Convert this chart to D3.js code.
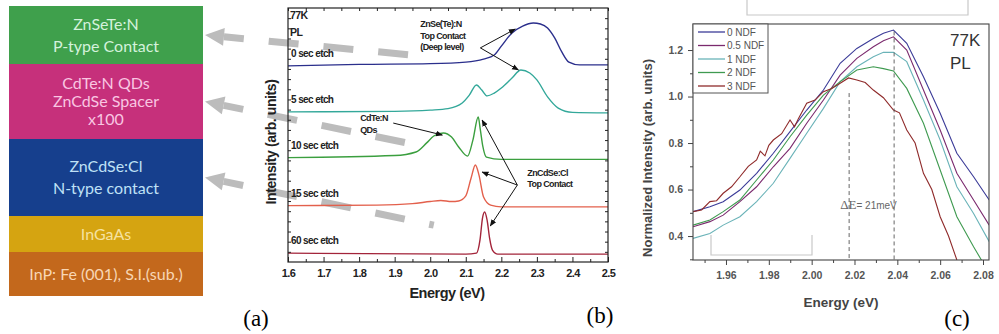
<!DOCTYPE html>
<html>
<head>
<meta charset="utf-8">
<script src="https://cdn.jsdelivr.net/npm/d3@7"></script>
<style>
  body { margin: 0; background: #fff; }
  svg { display: block; }
</style>
</head>
<body>
<svg id="fig" width="999" height="334"></svg>
<script>
// ---------- data ----------

// (a) layer stack, top to bottom (relative thickness as drawn)
const layerLines = [
    ["ZnSeTe:N", "P-type Contact"],
    ["CdTe:N QDs", "ZnCdSe Spacer", "x100"],
    ["ZnCdSe:Cl", "N-type contact"],
    ["InGaAs"],
    ["InP: Fe (001), S.I.(sub.)"]
];
const layerThick = [58, 75, 77, 36, 44];

// (b) PL spectra after etching (energy in eV, offset intensity in arb. units)
const etchLabels = ["0 sec etch", "5 sec etch", "10 sec etch", "15 sec etch", "60 sec etch"];
const etch0E = [1.6, 1.8, 2.0, 2.1, 2.15, 2.18, 2.2, 2.23, 2.26, 2.29, 2.31, 2.33, 2.35, 2.37, 2.39, 2.42, 2.5];
const etch0I = [7.72, 7.78, 7.81, 7.87, 7.99, 8.15, 8.50, 9.02, 9.29, 9.41, 9.37, 9.21, 8.82, 8.27, 7.87, 7.76, 7.76];
const etch5E = [1.6, 1.9, 2.0, 2.05, 2.09, 2.11, 2.13, 2.145, 2.16, 2.18, 2.2, 2.23, 2.255, 2.28, 2.3, 2.33, 2.36, 2.4, 2.5];
const etch5I = [5.91, 5.93, 5.98, 6.04, 6.26, 6.57, 6.97, 6.77, 6.54, 6.65, 6.85, 7.24, 7.56, 7.44, 7.17, 6.50, 6.06, 5.89, 5.87];
const etch10E = [1.6, 1.9, 1.96, 1.99, 2.01, 2.037, 2.06, 2.08, 2.105, 2.12, 2.135, 2.141, 2.148, 2.158, 2.2, 2.5];
const etch10I = [4.11, 4.19, 4.33, 4.69, 4.96, 5.08, 4.92, 4.53, 4.17, 4.80, 5.71, 5.20, 4.55, 4.13, 4.04, 4.04];
const etch15E = [1.6, 1.85, 1.95, 2.0, 2.03, 2.06, 2.08, 2.1, 2.115, 2.127, 2.137, 2.15, 2.17, 2.2, 2.5];
const etch15I = [2.22, 2.24, 2.30, 2.38, 2.42, 2.38, 2.40, 2.60, 3.31, 3.82, 3.43, 2.56, 2.24, 2.17, 2.17];
const etch60E = [1.6, 2.1, 2.13, 2.14, 2.147, 2.153, 2.16, 2.167, 2.175, 2.19, 2.5];
const etch60I = [0.35, 0.31, 0.35, 0.87, 1.73, 1.97, 1.65, 0.94, 0.47, 0.31, 0.31];
const etchTicks = [1.6, 1.7, 1.8, 1.9, 2.0, 2.1, 2.2, 2.3, 2.4, 2.5];

// (c) normalized PL vs neutral density filter
const ndfLabels = ["0 NDF", "0.5 NDF", "1 NDF", "2 NDF", "3 NDF"];
const ndfE = [1.9446, 1.9525, 1.9587, 1.9665, 1.9743, 1.9821, 1.9899, 1.9977, 2.0055, 2.0133,
              2.0211, 2.0288, 2.0335, 2.0382, 2.0444, 2.0522, 2.0600, 2.0678, 2.0756, 2.0829];
const ndf0 = [0.505, 0.526, 0.548, 0.598, 0.670, 0.756, 0.849, 0.942, 1.028, 1.143,
              1.207, 1.250, 1.272, 1.286, 1.229, 1.085, 0.928, 0.756, 0.655, 0.555];
const ndf05 = [0.440, 0.462, 0.490, 0.548, 0.612, 0.698, 0.777, 0.885, 0.985, 1.092,
               1.164, 1.214, 1.240, 1.257, 1.200, 1.028, 0.856, 0.670, 0.555, 0.447];
const ndf1 = [0.390, 0.411, 0.447, 0.483, 0.548, 0.627, 0.734, 0.842, 0.949, 1.064,
              1.128, 1.171, 1.190, 1.190, 1.150, 0.985, 0.813, 0.612, 0.497, 0.376];
const ndf2 = [0.447, 0.469, 0.505, 0.555, 0.641, 0.727, 0.827, 0.920, 1.006, 1.064,
              1.114, 1.128, 1.120, 1.110, 1.035, 0.885, 0.684, 0.483, 0.354, 0.240];
const ndf3E = [1.9446, 1.9486, 1.9525, 1.9556, 1.9587, 1.9626, 1.9665, 1.9704, 1.9743, 1.9760,
               1.9782, 1.9800, 1.9821, 1.9860, 1.9899, 1.9920, 1.9938, 1.9977, 2.0016, 2.0055,
               2.0094, 2.0133, 2.0172, 2.0211, 2.0250, 2.0288, 2.0335, 2.0382, 2.0410, 2.0444,
               2.0483, 2.0522, 2.0561, 2.0600, 2.0639, 2.0678, 2.0720];
const ndf3 = [0.505, 0.512, 0.548, 0.552, 0.584, 0.612, 0.655, 0.700, 0.727, 0.765,
              0.745, 0.790, 0.813, 0.840, 0.899, 0.870, 0.905, 0.971, 0.985, 1.021,
              1.035, 1.057, 1.080, 1.071, 1.060, 1.028, 0.995, 0.942, 0.930, 0.856,
              0.800, 0.670, 0.600, 0.483, 0.400, 0.297, 0.220];
const ndfYTicks = [0.4, 0.6, 0.8, 1.0, 1.2];
const ndfXTicks = [1.96, 1.98, 2.00, 2.02, 2.04, 2.06, 2.08];
const peakE = [2.0175, 2.0385];   // peak positions of 3 NDF and 0 NDF

// ---------- styles ----------
const layerFill = ["#3fa04c", "#c6307b", "#163f8d", "#d5a411", "#c3681c"];
const layerInk = ["#d4f2dc", "#f9c6e2", "#bfe1f6", "#f6e2a0", "#f8d6b4"];
const etchColor = ["#2b2f8c", "#33a89a", "#3b9f3f", "#e3604c", "#a3243a"];
const ndfColor = ["#3b3b98", "#7b2a6e", "#6ab3b8", "#3f9a50", "#8f2a2a"];
const sans = "'Liberation Sans', Arial, sans-serif";
const serif = "'Liberation Serif', 'DejaVu Serif', serif";

const svg = d3.select("#fig");

// ---------- panel (a): layer stack ----------
const aLeft = 9, aRight = 203;
const yA = d3.scaleLinear().domain([0, d3.sum(layerThick)]).range([6, 296]);
const layerTop = [0, ...d3.cumsum(layerThick)];
const gA = svg.append("g");

layerLines.forEach((lines, i) => {
    const y0 = yA(layerTop[i]);
    const y1 = yA(layerTop[i + 1]);
    gA.append("rect")
        .attr("x", aLeft).attr("y", y0)
        .attr("width", aRight - aLeft).attr("height", y1 - y0)
        .attr("fill", layerFill[i]);
    const lh = lines.length === 3 ? 18 : 22;
    const mid = (y0 + y1) / 2;
    lines.forEach((t, j) => {
        gA.append("text")
            .attr("x", (aLeft + aRight) / 2)
            .attr("y", mid + (j - (lines.length - 1) / 2) * lh)
            .attr("dy", "0.35em")
            .attr("text-anchor", "middle")
            .style("font-family", "Lato, 'Noto Sans', sans-serif")
            .style("font-size", "16px")
            .attr("fill", layerInk[i])
            .text(t);
    });
});

svg.append("text").attr("x", 256).attr("y", 326).attr("text-anchor", "middle")
    .style("font-family", serif).style("font-size", "23px").text("(a)");

// ---------- panel (b): etch series ----------
const xB = d3.scaleLinear().domain([1.6, 2.5]).range([288, 608]);
const yB = d3.scaleLinear().domain([0, 10]).range([262, 8]);
const etchSeries = [
    d3.zip(etch0E, etch0I), d3.zip(etch5E, etch5I), d3.zip(etch10E, etch10I),
    d3.zip(etch15E, etch15I), d3.zip(etch60E, etch60I)
];

// grey dashed arrows from spectra back to the layers (drawn first, behind)
const arrowLinks = [
    { layer: 0, E: 1.945, I: 8.15 },
    { layer: 1, E: 1.965, I: 4.60 },
    { layer: 2, E: 2.010, I: 1.45 }
];
const gArrows = svg.append("g");
arrowLinks.forEach((a) => {
    const hx = aRight + 2;
    const hy = (yA(layerTop[a.layer]) + yA(layerTop[a.layer + 1])) / 2;
    const tx = xB(a.E), ty = yB(a.I);
    const len = Math.hypot(tx - hx, ty - hy);
    const ux = (hx - tx) / len, uy = (hy - ty) / len;
    const bx = hx - ux * 19, by = hy - uy * 19;
    const nx = -uy, ny = ux;
    gArrows.append("line")
        .attr("x1", bx).attr("y1", by).attr("x2", tx).attr("y2", ty)
        .attr("stroke", "#bcbcbc").attr("stroke-width", 7)
        .attr("stroke-dasharray", "30,25").attr("stroke-dashoffset", 10);
    gArrows.append("polygon")
        .attr("points", [[hx, hy], [bx + nx * 9, by + ny * 9], [bx - nx * 9, by - ny * 9]].join(" "))
        .attr("fill", "#bcbcbc");
});

const gB = svg.append("g");
const lineB = d3.line().x((d) => xB(d[0])).y((d) => yB(d[1])).curve(d3.curveMonotoneX);

gB.selectAll(".etch")
    .data(etchSeries)
    .enter().append("path")
    .attr("class", "etch")
    .attr("d", lineB)
    .attr("fill", "none")
    .attr("stroke", (d, i) => etchColor[i])
    .attr("stroke-width", 1.4);

// axes (ticks inward)
gB.append("g").attr("transform", "translate(0," + yB(0) + ")")
    .call(d3.axisBottom(xB).tickValues(d3.range(1.65, 2.5, 0.1)).tickSize(-3).tickFormat(""));
gB.append("g").attr("transform", "translate(0," + yB(0) + ")")
    .call(d3.axisBottom(xB).tickValues(etchTicks).tickSize(-5).tickPadding(7).tickFormat(d3.format(".1f")));
gB.append("g").attr("transform", "translate(0," + yB(10) + ")")
    .call(d3.axisTop(xB).tickValues(d3.range(1.6, 2.51, 0.05)).tickSize(-3).tickFormat(""));
gB.append("g").attr("transform", "translate(" + xB(1.6) + ",0)")
    .call(d3.axisLeft(yB).tickValues(d3.range(0.4, 10, 0.4)).tickSize(-3).tickFormat(""));
gB.append("g").attr("transform", "translate(" + xB(2.5) + ",0)")
    .call(d3.axisRight(yB).tickValues(d3.range(0.4, 10, 0.4)).tickSize(-3).tickFormat(""));
gB.selectAll(".domain").remove();
gB.selectAll(".tick line").attr("stroke", "#222");
gB.selectAll(".tick text")
    .style("font-family", sans).style("font-size", "11px").style("font-weight", "bold")
    .style("letter-spacing", "-0.6px").attr("fill", "#222");
gB.append("rect")
    .attr("x", xB(1.6)).attr("y", yB(10))
    .attr("width", xB(2.5) - xB(1.6)).attr("height", yB(0) - yB(10))
    .attr("fill", "none").attr("stroke", "#222").attr("stroke-width", 1.2);

const bText = (x, y, t, size) => gB.append("text")
    .attr("x", x).attr("y", y).text(t)
    .style("font-family", sans).style("font-size", size + "px").style("font-weight", "bold")
    .style("letter-spacing", "-0.6px").attr("fill", "#222");

bText(xB(1.6) + 2, yB(10) + 11, "77K", 10.5);
bText(xB(1.6) + 2, yB(10) + 28, "PL", 10.5);
etchSeries.forEach((s, i) => bText(xB(1.6) + 3, yB(s[0][1]) - 9, etchLabels[i], 10));

// annotations with black arrows
svg.append("defs").append("marker")
    .attr("id", "tip").attr("viewBox", "0 0 10 10").attr("refX", 9).attr("refY", 5)
    .attr("markerWidth", 7).attr("markerHeight", 7).attr("orient", "auto")
    .append("path").attr("d", "M0,1L10,5L0,9Z").attr("fill", "#111");

const annotations = [
    { E: 1.972, I: 9.25, lines: ["ZnSe(Te):N", "Top Contact", "(Deep level)"],
      from: [2.141, 8.43], to: [[2.239, 9.17], [2.248, 7.56]] },
    { E: 1.803, I: 5.55, lines: ["CdTe:N", " QDs"],
      from: [1.896, 5.47], to: [[2.034, 5.0]] },
    { E: 2.273, I: 3.39, lines: ["ZnCdSe:Cl", "Top Contact"],
      from: [2.245, 3.03], to: [[2.146, 3.54], [2.169, 1.42], [2.146, 5.59]] }
];
annotations.forEach((a) => {
    a.lines.forEach((t, j) => bText(xB(a.E), yB(a.I) + j * 11.5, t, 9));
    a.to.forEach((p) => {
        gB.append("line")
            .attr("x1", xB(a.from[0])).attr("y1", yB(a.from[1]))
            .attr("x2", xB(p[0])).attr("y2", yB(p[1]))
            .attr("stroke", "#111").attr("stroke-width", 1)
            .attr("marker-end", "url(#tip)");
    });
});

svg.append("text").attr("x", 447).attr("y", 298).attr("text-anchor", "middle")
    .style("font-family", sans).style("font-size", "14.5px").style("font-weight", "bold")
    .style("letter-spacing", "-0.5px").attr("fill", "#222").text("Energy (eV)");
svg.append("text").attr("transform", "translate(276,142) rotate(-90)").attr("text-anchor", "middle")
    .style("font-family", sans).style("font-size", "14px").style("font-weight", "bold")
    .style("letter-spacing", "-0.4px").attr("fill", "#222").text("Intensity (arb. units)");
svg.append("text").attr("x", 600).attr("y", 323).attr("text-anchor", "middle")
    .style("font-family", serif).style("font-size", "23px").text("(b)");

// ---------- panel (c): NDF series ----------
const xC = d3.scaleLinear().domain([1.9446, 2.0828]).range([693, 989]);
const yC = d3.scaleLinear().domain([0.297, 1.312]).range([260, 24]);
const ndfSeries = [
    d3.zip(ndfE, ndf0), d3.zip(ndfE, ndf05), d3.zip(ndfE, ndf1),
    d3.zip(ndfE, ndf2), d3.zip(ndf3E, ndf3)
];
const gC = svg.append("g");

// grey bracket artefacts
const grey = "#c8c8c8";
gC.append("path").attr("d", "M747,0V15H968V0").attr("fill", "none").attr("stroke", grey).attr("stroke-width", 1.2);

svg.append("clipPath").attr("id", "clipC").append("rect")
    .attr("x", xC.range()[0]).attr("y", yC.range()[1])
    .attr("width", xC.range()[1] - xC.range()[0]).attr("height", yC.range()[0] - yC.range()[1]);

gC.append("path").attr("d", "M711,235V255H812V235").attr("fill", "none").attr("stroke", grey).attr("stroke-width", 1.2);

const lineC = d3.line().x((d) => xC(d[0])).y((d) => yC(d[1])).curve(d3.curveLinear);
gC.append("g").attr("clip-path", "url(#clipC)")
    .selectAll(".ndf")
    .data(ndfSeries)
    .enter().append("path")
    .attr("class", "ndf")
    .attr("d", lineC)
    .attr("fill", "none")
    .attr("stroke", (d, i) => ndfColor[i])
    .attr("stroke-width", 1.1);

// peak markers
const peakTop = [1.015, 1.28];
peakE.forEach((e, i) => {
    gC.append("line")
        .attr("x1", xC(e)).attr("x2", xC(e))
        .attr("y1", yC(peakTop[i])).attr("y2", yC(0.297))
        .attr("stroke", "#555").attr("stroke-width", 0.9).attr("stroke-dasharray", "4,3");
});
const dE = gC.append("text").attr("x", xC(2.0133)).attr("y", yC(0.516))
    .attr("fill", "#666").style("font-family", sans);
dE.append("tspan").style("font-family", serif).style("font-size", "13px").text("ΔE");
dE.append("tspan").style("font-size", "10px").text("= " + Math.round((peakE[1] - peakE[0]) * 1000) + "meV");

// axes
gC.append("g").attr("transform", "translate(" + xC.range()[0] + ",0)")
    .call(d3.axisLeft(yC).tickValues([0.3, 0.5, 0.7, 0.9, 1.1]).tickSize(3).tickFormat(""));
gC.append("g").attr("transform", "translate(" + xC.range()[0] + ",0)")
    .call(d3.axisLeft(yC).tickValues(ndfYTicks).tickSize(5).tickPadding(5).tickFormat(d3.format(".1f")));
gC.append("g").attr("transform", "translate(0," + yC.range()[0] + ")")
    .call(d3.axisBottom(xC).tickValues([1.95, 1.97, 1.99, 2.01, 2.03, 2.05, 2.07]).tickSize(3).tickFormat(""));
gC.append("g").attr("transform", "translate(0," + yC.range()[0] + ")")
    .call(d3.axisBottom(xC).tickValues(ndfXTicks).tickSize(5).tickPadding(7).tickFormat(d3.format(".2f")));
gC.selectAll(".domain").remove();
gC.selectAll(".tick line").attr("stroke", "#444");
gC.selectAll(".tick text")
    .style("font-family", sans).style("font-size", "10.5px").style("font-weight", "bold").attr("fill", "#555");
gC.append("rect")
    .attr("x", xC.range()[0]).attr("y", yC.range()[1])
    .attr("width", xC.range()[1] - xC.range()[0]).attr("height", yC.range()[0] - yC.range()[1])
    .attr("fill", "none").attr("stroke", "#444").attr("stroke-width", 1.1);

// legend
const leg = gC.append("g").attr("transform", "translate(693,24)");
leg.append("rect").attr("width", 75).attr("height", 69).attr("fill", "#fff").attr("stroke", "#555");
ndfLabels.forEach((t, i) => {
    const y = 8 + i * 13.5;
    leg.append("line").attr("x1", 5).attr("x2", 32).attr("y1", y).attr("y2", y)
        .attr("stroke", ndfColor[i]).attr("stroke-width", 1.3);
    leg.append("text").attr("x", 34).attr("y", y).attr("dy", "0.35em").text(t)
        .style("font-family", sans).style("font-size", "10px").attr("fill", "#555");
});

gC.append("text").attr("x", 950).attr("y", 46).text("77K")
    .style("font-family", sans).style("font-size", "17px").attr("fill", "#333");
gC.append("text").attr("x", 950).attr("y", 69).text("PL")
    .style("font-family", sans).style("font-size", "17px").attr("fill", "#333");

svg.append("text").attr("x", 841).attr("y", 307).attr("text-anchor", "middle")
    .style("font-family", sans).style("font-size", "13.5px").style("font-weight", "bold")
    .attr("fill", "#444").text("Energy (eV)");
svg.append("text").attr("transform", "translate(652,158) rotate(-90)").attr("text-anchor", "middle")
    .style("font-family", sans).style("font-size", "13px").style("font-weight", "bold")
    .attr("fill", "#444").text("Normalized Intensity (arb. units)");
svg.append("text").attr("x", 957).attr("y", 326).attr("text-anchor", "middle")
    .style("font-family", serif).style("font-size", "23px").text("(c)");
</script>
</body>
</html>
